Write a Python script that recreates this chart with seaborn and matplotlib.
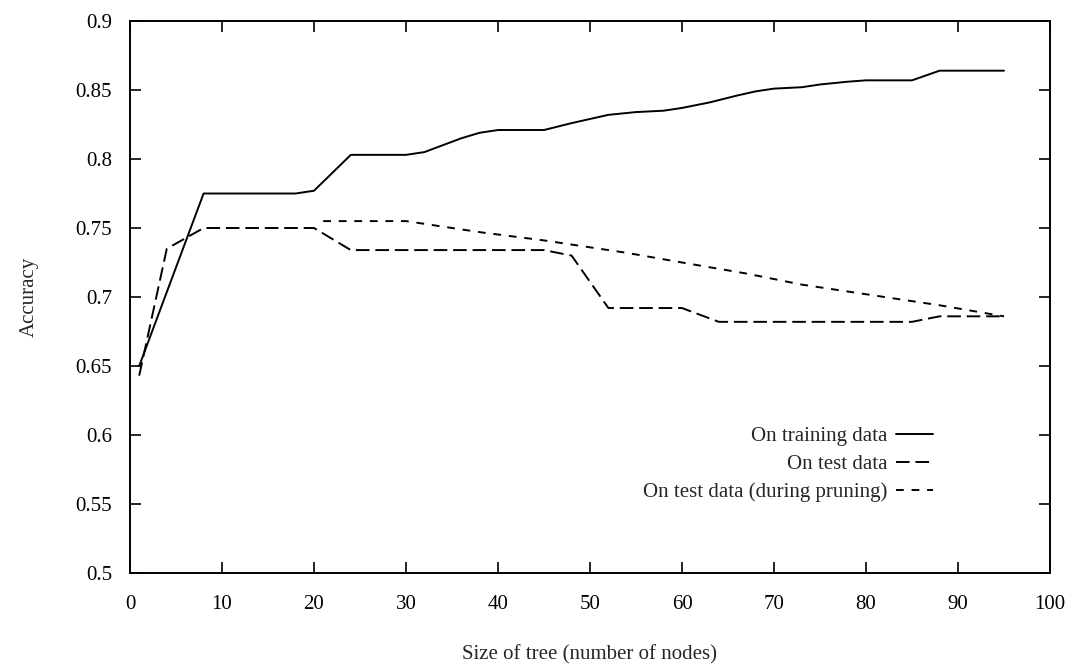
import matplotlib
matplotlib.use("Agg")
import matplotlib.pyplot as plt
import seaborn as sns
import pandas as pd

train_x = [1, 8, 18, 20, 24, 30, 32, 36, 38, 40, 45, 48, 52, 55, 58, 60, 63, 66, 68, 70, 73, 75, 78, 80, 85, 88, 95]
train_y = [0.65, 0.775, 0.775, 0.777, 0.803, 0.803, 0.805, 0.815, 0.819, 0.821, 0.821, 0.826, 0.832, 0.834, 0.835,
           0.837, 0.841, 0.846, 0.849, 0.851, 0.852, 0.854, 0.856, 0.857, 0.857, 0.864, 0.864]

test_x = [1, 4, 8, 20, 24, 45, 48, 52, 60, 64, 85, 88, 95]
test_y = [0.643, 0.735, 0.75, 0.75, 0.734, 0.734, 0.730, 0.692, 0.692, 0.682, 0.682, 0.686, 0.686]

prune_x = [21, 30, 34, 38, 45, 50, 54, 60, 67, 73, 78, 83, 88, 95]
prune_y = [0.755, 0.755, 0.751, 0.747, 0.741, 0.736, 0.732, 0.725, 0.717, 0.709, 0.704, 0.699, 0.694, 0.686]

labels = ["On training data", "On test data", "On test data (during pruning)"]
x_ticks = [0, 10, 20, 30, 40, 50, 60, 70, 80, 90, 100]
y_ticks = [0.5, 0.55, 0.6, 0.65, 0.7, 0.75, 0.8, 0.85, 0.9]

sns.set_theme(style="ticks")
plt.rcParams['font.family'] = ['Liberation Serif', 'DejaVu Serif']

fig = plt.figure(figsize=(10.75, 6.64), dpi=100)
ax = fig.add_axes([130/1075, 1 - 573/664, (1050-130)/1075, (573-21)/664])

styles = ["-", (0, (7, 3)), (0, (4, 4))]
series = [(train_x, train_y), (test_x, test_y), (prune_x, prune_y)]
for (xs, ys), lab, ls in zip(series, labels, styles):
    df = pd.DataFrame({"x": xs, "y": ys})
    sns.lineplot(data=df, x="x", y="y", ax=ax, color="black", linewidth=1.4,
                 linestyle=ls, label=lab, estimator=None, sort=False)

ax.set_xlim(0, 100)
ax.set_ylim(0.5, 0.9)
ax.set_xticks(x_ticks)
ax.set_xticklabels([str(t) for t in x_ticks])
ax.set_yticks(y_ticks)
ax.set_yticklabels([f"{t:g}" for t in y_ticks])
ax.tick_params(direction="in", length=8, width=1.2, top=True, right=True,
               labelsize=15, colors="black")
ax.tick_params(axis="x", pad=16)
ax.tick_params(axis="y", pad=13)
for s in ax.spines.values():
    s.set_visible(True)
    s.set_color("black")
    s.set_linewidth(1.4)

ax.set_xlabel("Size of tree (number of nodes)", fontsize=15, labelpad=22)
ax.set_ylabel("Accuracy", fontsize=15, labelpad=26)

leg = ax.legend(markerfirst=False, frameon=False, fontsize=15, handlelength=1.8,
                loc="upper right", bbox_to_anchor=(0.873, 0.265), labelspacing=0.4,
                handletextpad=0.4, borderaxespad=0, borderpad=0)

fig.savefig("out.png", dpi=100)
